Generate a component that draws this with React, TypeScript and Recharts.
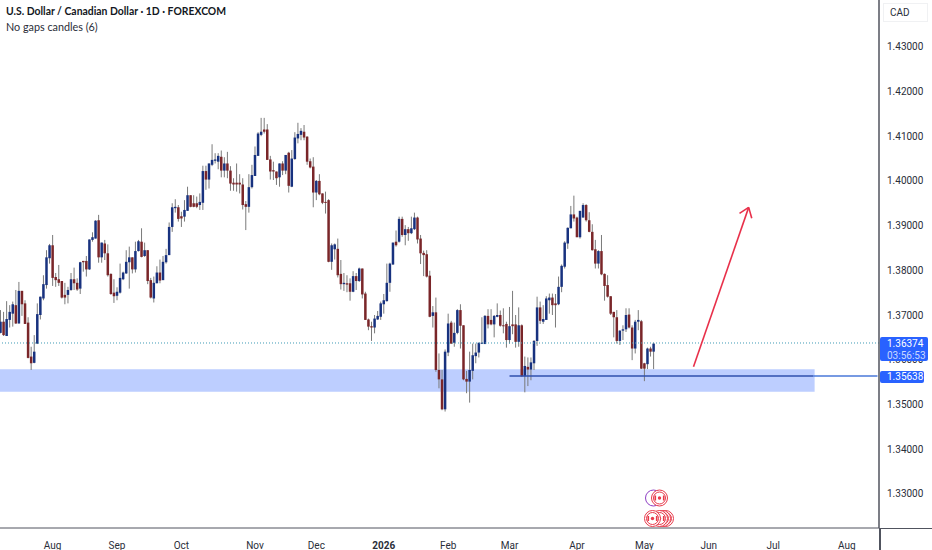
import { Bar, ComposedChart, ReferenceArea, ReferenceLine, XAxis, YAxis } from 'recharts';

// daily USD/CAD candles
const opens = [
  1.3660, 1.3685, 1.3653, 1.3689, 1.3703, 1.3722, 1.3681, 1.3754, 1.3726, 1.3683,
  1.3607, 1.3593, 1.3636, 1.3700, 1.3737, 1.3767, 1.3827, 1.3856, 1.3785, 1.3780,
  1.3776, 1.3745, 1.3745, 1.3756, 1.3780, 1.3772, 1.3759, 1.3821, 1.3821, 1.3802,
  1.3868, 1.3871, 1.3912, 1.3829, 1.3860, 1.3838, 1.3792, 1.3750, 1.3743, 1.3750,
  1.3780, 1.3793, 1.3818, 1.3829, 1.3802, 1.3843, 1.3864, 1.3832, 1.3845, 1.3778,
  1.3737, 1.3771, 1.3795, 1.3778, 1.3818, 1.3834, 1.3897, 1.3939, 1.3941, 1.3921,
  1.3920, 1.3933, 1.3968, 1.3950, 1.3950, 1.3946, 1.3951, 1.4022, 1.4003, 1.4036,
  1.4045, 1.4043, 1.4054, 1.4023, 1.4039, 1.4023, 1.3996, 1.3996, 1.3996, 1.3992,
  1.3948, 1.3942, 1.3986, 1.4011, 1.4056, 1.4103, 1.4115, 1.4115, 1.4048, 1.4024,
  1.4021, 1.4008, 1.4039, 1.4023, 1.4063, 1.3987, 1.4049, 1.4095, 1.4103, 1.4110,
  1.4099, 1.4044, 1.4032, 1.3974, 1.4000, 1.3972, 1.3953, 1.3957, 1.3819, 1.3847,
  1.3848, 1.3792, 1.3769, 1.3771, 1.3771, 1.3752, 1.3787, 1.3776, 1.3804, 1.3748,
  1.3690, 1.3675, 1.3672, 1.3690, 1.3696, 1.3724, 1.3731, 1.3772, 1.3813, 1.3864,
  1.3864, 1.3915, 1.3879, 1.3892, 1.3883, 1.3892, 1.3918, 1.3871, 1.3839, 1.3836,
  1.3788, 1.3698, 1.3706, 1.3577, 1.3556, 1.3489, 1.3616, 1.3683, 1.3638, 1.3660,
  1.3711, 1.3677, 1.3557, 1.3551, 1.3575, 1.3608, 1.3616, 1.3636, 1.3635, 1.3698,
  1.3689, 1.3679, 1.3696, 1.3700, 1.3677, 1.3680, 1.3644, 1.3679, 1.3679, 1.3640,
  1.3677, 1.3563, 1.3584, 1.3578, 1.3592, 1.3642, 1.3717, 1.3685, 1.3689, 1.3733,
  1.3739, 1.3726, 1.3724, 1.3763, 1.3808, 1.3860, 1.3894, 1.3925, 1.3918, 1.3874,
  1.3918, 1.3946, 1.3912, 1.3886, 1.3847, 1.3815, 1.3843, 1.3792, 1.3767, 1.3742,
  1.3707, 1.3695, 1.3642, 1.3665, 1.3668, 1.3701, 1.3672, 1.3625, 1.3685, 1.3686,
  1.3592, 1.3590, 1.3625, 1.3618,
];
const highs = [
  1.3711, 1.3707, 1.3731, 1.3722, 1.3730, 1.3756, 1.3774, 1.3754, 1.3733, 1.3695,
  1.3629, 1.3655, 1.3726, 1.3741, 1.3789, 1.3845, 1.3859, 1.3879, 1.3794, 1.3812,
  1.3776, 1.3772, 1.3763, 1.3794, 1.3806, 1.3782, 1.3819, 1.3821, 1.3832, 1.3869,
  1.3885, 1.3912, 1.3924, 1.3862, 1.3868, 1.3858, 1.3793, 1.3780, 1.3762, 1.3815,
  1.3797, 1.3845, 1.3853, 1.3829, 1.3864, 1.3868, 1.3894, 1.3862, 1.3845, 1.3783,
  1.3786, 1.3809, 1.3824, 1.3832, 1.3848, 1.3907, 1.3950, 1.3959, 1.3946, 1.3931,
  1.3957, 1.3987, 1.3968, 1.3968, 1.3965, 1.3972, 1.4034, 1.4034, 1.4039, 1.4082,
  1.4062, 1.4062, 1.4068, 1.4053, 1.4065, 1.4033, 1.4006, 1.4039, 1.4015, 1.4006,
  1.3955, 1.4015, 1.4036, 1.4077, 1.4109, 1.4141, 1.4141, 1.4127, 1.4056, 1.4043,
  1.4021, 1.4039, 1.4044, 1.4058, 1.4065, 1.4069, 1.4109, 1.4130, 1.4118, 1.4125,
  1.4100, 1.4050, 1.4053, 1.4002, 1.4015, 1.3972, 1.3976, 1.3959, 1.3860, 1.3860,
  1.3871, 1.3823, 1.3794, 1.3789, 1.3782, 1.3798, 1.3794, 1.3806, 1.3804, 1.3752,
  1.3692, 1.3685, 1.3700, 1.3709, 1.3730, 1.3747, 1.3815, 1.3817, 1.3862, 1.3889,
  1.3920, 1.3920, 1.3901, 1.3897, 1.3920, 1.3929, 1.3920, 1.3879, 1.3844, 1.3845,
  1.3799, 1.3720, 1.3739, 1.3614, 1.3577, 1.3623, 1.3703, 1.3687, 1.3683, 1.3713,
  1.3724, 1.3677, 1.3575, 1.3618, 1.3636, 1.3636, 1.3638, 1.3695, 1.3700, 1.3713,
  1.3713, 1.3700, 1.3726, 1.3710, 1.3715, 1.3685, 1.3718, 1.3754, 1.3700, 1.3717,
  1.3679, 1.3607, 1.3605, 1.3605, 1.3644, 1.3741, 1.3730, 1.3722, 1.3742, 1.3748,
  1.3748, 1.3747, 1.3786, 1.3813, 1.3865, 1.3896, 1.3944, 1.3967, 1.3920, 1.3933,
  1.3950, 1.3948, 1.3930, 1.3903, 1.3868, 1.3845, 1.3879, 1.3793, 1.3789, 1.3742,
  1.3707, 1.3711, 1.3666, 1.3677, 1.3715, 1.3715, 1.3677, 1.3689, 1.3711, 1.3689,
  1.3593, 1.3627, 1.3629, 1.3638,
];
const lows = [
  1.3659, 1.3653, 1.3653, 1.3672, 1.3674, 1.3680, 1.3681, 1.3698, 1.3680, 1.3603,
  1.3577, 1.3592, 1.3635, 1.3690, 1.3733, 1.3759, 1.3815, 1.3765, 1.3763, 1.3765,
  1.3737, 1.3724, 1.3726, 1.3754, 1.3756, 1.3754, 1.3747, 1.3797, 1.3786, 1.3801,
  1.3864, 1.3871, 1.3817, 1.3817, 1.3823, 1.3786, 1.3745, 1.3727, 1.3733, 1.3748,
  1.3778, 1.3792, 1.3759, 1.3793, 1.3795, 1.3842, 1.3829, 1.3830, 1.3769, 1.3737,
  1.3728, 1.3771, 1.3771, 1.3778, 1.3815, 1.3834, 1.3886, 1.3929, 1.3909, 1.3897,
  1.3909, 1.3933, 1.3941, 1.3941, 1.3939, 1.3935, 1.3935, 1.3980, 1.3983, 1.4033,
  1.4039, 1.4026, 1.4008, 1.4008, 1.4006, 1.3978, 1.3978, 1.3976, 1.3972, 1.3936,
  1.3890, 1.3929, 1.3983, 1.4011, 1.4056, 1.4100, 1.4106, 1.4047, 1.4003, 1.4002,
  1.3991, 1.3987, 1.4013, 1.4015, 1.3974, 1.3986, 1.4047, 1.4084, 1.4091, 1.4091,
  1.4036, 1.4028, 1.3941, 1.3957, 1.3968, 1.3948, 1.3927, 1.3818, 1.3801, 1.3824,
  1.3784, 1.3757, 1.3754, 1.3751, 1.3732, 1.3751, 1.3756, 1.3774, 1.3737, 1.3689,
  1.3666, 1.3642, 1.3659, 1.3689, 1.3689, 1.3703, 1.3730, 1.3752, 1.3812, 1.3853,
  1.3862, 1.3875, 1.3856, 1.3866, 1.3881, 1.3890, 1.3860, 1.3814, 1.3787, 1.3784,
  1.3695, 1.3672, 1.3573, 1.3536, 1.3487, 1.3484, 1.3608, 1.3635, 1.3629, 1.3657,
  1.3625, 1.3554, 1.3525, 1.3504, 1.3556, 1.3592, 1.3605, 1.3635, 1.3635, 1.3670,
  1.3677, 1.3650, 1.3695, 1.3674, 1.3659, 1.3627, 1.3636, 1.3657, 1.3627, 1.3629,
  1.3562, 1.3527, 1.3541, 1.3554, 1.3577, 1.3631, 1.3680, 1.3680, 1.3689, 1.3703,
  1.3700, 1.3672, 1.3722, 1.3751, 1.3804, 1.3848, 1.3894, 1.3909, 1.3874, 1.3871,
  1.3918, 1.3909, 1.3885, 1.3844, 1.3804, 1.3804, 1.3789, 1.3732, 1.3739, 1.3700,
  1.3650, 1.3636, 1.3633, 1.3644, 1.3662, 1.3670, 1.3599, 1.3614, 1.3666, 1.3579,
  1.3552, 1.3579, 1.3607, 1.3579,
];
const closes = [
  1.3685, 1.3655, 1.3691, 1.3707, 1.3724, 1.3681, 1.3754, 1.3724, 1.3680, 1.3604,
  1.3592, 1.3618, 1.3702, 1.3741, 1.3769, 1.3829, 1.3856, 1.3783, 1.3778, 1.3772,
  1.3739, 1.3739, 1.3756, 1.3780, 1.3771, 1.3757, 1.3818, 1.3818, 1.3802, 1.3869,
  1.3874, 1.3911, 1.3829, 1.3862, 1.3838, 1.3789, 1.3747, 1.3742, 1.3752, 1.3783,
  1.3795, 1.3819, 1.3829, 1.3802, 1.3843, 1.3865, 1.3830, 1.3845, 1.3776, 1.3739,
  1.3772, 1.3795, 1.3777, 1.3819, 1.3834, 1.3897, 1.3941, 1.3942, 1.3915, 1.3916,
  1.3935, 1.3968, 1.3942, 1.3942, 1.3942, 1.3953, 1.4022, 1.4003, 1.4039, 1.4047,
  1.4048, 1.4056, 1.4023, 1.4039, 1.4023, 1.3994, 1.3992, 1.3992, 1.3992, 1.3946,
  1.3942, 1.3986, 1.4013, 1.4058, 1.4106, 1.4110, 1.4110, 1.4047, 1.4021, 1.4021,
  1.4006, 1.4039, 1.4023, 1.4058, 1.3989, 1.4050, 1.4097, 1.4105, 1.4112, 1.4097,
  1.4043, 1.4030, 1.3974, 1.4000, 1.3970, 1.3951, 1.3951, 1.3819, 1.3856, 1.3858,
  1.3789, 1.3769, 1.3772, 1.3768, 1.3752, 1.3787, 1.3776, 1.3804, 1.3746, 1.3689,
  1.3674, 1.3672, 1.3692, 1.3698, 1.3726, 1.3733, 1.3772, 1.3815, 1.3862, 1.3856,
  1.3915, 1.3879, 1.3892, 1.3883, 1.3894, 1.3918, 1.3869, 1.3838, 1.3834, 1.3786,
  1.3696, 1.3706, 1.3577, 1.3556, 1.3489, 1.3618, 1.3681, 1.3636, 1.3660, 1.3711,
  1.3676, 1.3556, 1.3551, 1.3577, 1.3610, 1.3616, 1.3638, 1.3638, 1.3698, 1.3679,
  1.3679, 1.3698, 1.3700, 1.3676, 1.3675, 1.3644, 1.3675, 1.3675, 1.3640, 1.3677,
  1.3563, 1.3586, 1.3578, 1.3594, 1.3642, 1.3717, 1.3687, 1.3691, 1.3737, 1.3739,
  1.3722, 1.3722, 1.3763, 1.3810, 1.3862, 1.3895, 1.3925, 1.3916, 1.3874, 1.3933,
  1.3946, 1.3912, 1.3886, 1.3845, 1.3815, 1.3843, 1.3791, 1.3765, 1.3741, 1.3703,
  1.3695, 1.3642, 1.3665, 1.3668, 1.3700, 1.3672, 1.3625, 1.3685, 1.3689, 1.3580,
  1.3580, 1.3625, 1.3618, 1.3636,
];

const priceTicks = [1.33, 1.34, 1.35, 1.36, 1.37, 1.38, 1.39, 1.4, 1.41, 1.42, 1.43];
const monthTicks: Record<number, string> = {
  17: 'Aug', 38: 'Sep', 59: 'Oct', 83: 'Nov', 103: 'Dec', 125: '2026',
  146: 'Feb', 166: 'Mar', 188: 'Apr', 210: 'May', 231: 'Jun', 252: 'Jul', 276: 'Aug',
};

const lastPrice = 1.36374;
const supportPrice = 1.35638;
const zoneTop = 1.35788;
const zoneBottom = 1.35283;

const SLOTS = 287; // candles plus the empty bars to the right
const rows = Array.from({ length: SLOTS }, (_, i) => ({
  i,
  open: opens[i],
  close: closes[i],
  high: highs[i],
  low: lows[i],
  range: highs[i] ? [lows[i], highs[i]] : undefined,
}));

const FONT = 'Roboto, sans-serif';
const UP = '#18327f';
const DOWN = '#7a2629';
const BADGE = '#e8394a';

function Candle(props: any) {
  const { x, y, width, height, payload } = props;
  if (!payload || !payload.high) return null;
  const cx = x + width / 2;
  const perPrice = height / (payload.high - payload.low);
  const top = y + (payload.high - Math.max(payload.open, payload.close)) * perPrice;
  const bottom = y + (payload.high - Math.min(payload.open, payload.close)) * perPrice;
  return (
    <g>
      <line x1={cx} x2={cx} y1={y} y2={y + height} stroke="#7a7a7a" strokeWidth={1} />
      <rect
        x={cx - 1.25}
        y={top}
        width={2.5}
        height={Math.max(bottom - top, 1)}
        fill={payload.close >= payload.open ? UP : DOWN}
      />
    </g>
  );
}

function MonthTick(props: any) {
  const { x, y, payload } = props;
  const label = monthTicks[payload.value];
  return (
    <text x={x} y={y + 13} textAnchor="middle" fontFamily={FONT} fontSize={10} fontWeight={label === '2026' ? 700 : 400} fill="#2a2e39">
      {label}
    </text>
  );
}

function Badge({ cx, cy, flag }: { cx: number; cy: number; flag?: boolean }) {
  return (
    <g>
      <circle cx={cx} cy={cy} r={8} fill="#fff" stroke={BADGE} strokeWidth={1} />
      <circle cx={cx} cy={cy} r={6} fill="#fff" stroke={BADGE} strokeWidth={1} />
      {flag && <circle cx={cx} cy={cy} r={1.7} fill={BADGE} />}
      {flag && <rect x={cx - 5} y={cy - 2.5} width={1.6} height={5} fill={BADGE} />}
      {flag && <rect x={cx + 3.4} y={cy - 2.5} width={1.6} height={5} fill={BADGE} />}
    </g>
  );
}

function EventBadges() {
  return (
    <svg width={40} height={44} viewBox="640 485 40 44" style={{ position: 'absolute', left: 640, top: 485 }}>
      <circle cx={653.5} cy={498} r={8} fill="#fff" stroke="#8e3fc4" strokeWidth={1} />
      <Badge cx={659.5} cy={498} flag />
      <Badge cx={665.5} cy={518.5} />
      <Badge cx={662.5} cy={518.5} />
      <Badge cx={659.5} cy={518.5} flag />
      <Badge cx={652.5} cy={518.5} flag />
    </svg>
  );
}

const tagStyle = {
  position: 'absolute',
  left: 880,
  background: '#2962ff',
  color: '#fff',
  borderRadius: 2,
  fontFamily: FONT,
  fontSize: 10,
  paddingLeft: 7,
  boxSizing: 'border-box',
} as const;

export default function App() {
  return (
    <div style={{ position: 'absolute', left: 0, top: 0, width: 932, height: 550, background: '#fff', overflow: 'hidden' }}>
      <div style={{ position: 'absolute', left: -1, top: 0 }}>
        <ComposedChart
          width={933}
          height={550}
          data={rows}
          barCategoryGap={0}
          margin={{ top: 0, right: 0, bottom: 0, left: 0 }}
        >
          <XAxis
            dataKey="i"
            type="category"
            height={22}
            interval={0}
            ticks={Object.keys(monthTicks).map(Number)}
            tick={<MonthTick />}
            tickLine={false}
            stroke="#50535e"
          />
          <YAxis
            orientation="right"
            width={53}
            domain={[1.32235, 1.44047]}
            ticks={priceTicks}
            tickFormatter={(v: number) => v.toFixed(5)}
            tick={{ fill: '#2a2e39', fontSize: 10, fontFamily: FONT }}
            tickLine={false}
            tickMargin={2}
            stroke="#50535e"
            strokeWidth={1.5}
          />
          <Bar dataKey="range" shape={<Candle />} isAnimationActive={false} />
          <ReferenceArea y1={zoneBottom} y2={zoneTop} x2={265} fill="#2962ff" fillOpacity={0.31} stroke="none" />
          <ReferenceLine y={lastPrice} stroke="#3f9bb5" strokeDasharray="1 2" />
          <ReferenceLine
            segment={[{ x: 166, y: supportPrice }, { x: 265, y: supportPrice }]}
            stroke="#2f4fae"
            strokeWidth={1.5}
          />
          <ReferenceLine
            segment={[{ x: 265, y: supportPrice }, { x: 286, y: supportPrice }]}
            stroke="#4a78d8"
            strokeWidth={1.5}
          />
          {/* red arrow drawn on the chart */}
          <ReferenceLine segment={[{ x: 226, y: 1.3584 }, { x: 244, y: 1.39408 }]} stroke="#e8304a" strokeWidth={1.6} />
          <ReferenceLine segment={[{ x: 241, y: 1.39275 }, { x: 244, y: 1.39408 }]} stroke="#e8304a" strokeWidth={1.6} />
          <ReferenceLine segment={[{ x: 245, y: 1.39163 }, { x: 244, y: 1.39408 }]} stroke="#e8304a" strokeWidth={1.6} />
        </ComposedChart>
      </div>
      {/* axis lines run on into the corner under the price scale */}
      <div style={{ position: 'absolute', left: 879, top: 528, width: 53, height: 1, background: '#50535e' }} />
      <div style={{ position: 'absolute', left: 879, top: 528, width: 1.5, height: 22, background: '#50535e' }} />
      <div style={{ ...tagStyle, top: 337, width: 48, height: 24, lineHeight: '12px', paddingTop: 1 }}>
        {lastPrice.toFixed(5)}
        <div style={{ color: '#c9d8ff' }}>03:56:53</div>
      </div>
      <div style={{ ...tagStyle, top: 371, width: 44, height: 12, lineHeight: '12px' }}>{supportPrice.toFixed(5)}</div>
      <div style={{ position: 'absolute', left: 6, top: 4, fontFamily: 'Lato, sans-serif', lineHeight: '15px', color: '#131722' }}>
        <div style={{ fontWeight: 700, fontSize: 10.4 }}>U.S. Dollar / Canadian Dollar · 1D · FOREXCOM</div>
        <div style={{ color: '#2a2e39', fontSize: 10.8 }}>No gaps candles (6)</div>
      </div>
      <div style={{ position: 'absolute', left: 883, top: 3, width: 45, height: 19, border: '1px solid #f0f1f3', boxSizing: 'border-box', paddingLeft: 6, fontFamily: FONT, fontSize: 10, lineHeight: '17px', color: '#2a2e39' }}>
        CAD
      </div>
      <EventBadges />
    </div>
  );
}
